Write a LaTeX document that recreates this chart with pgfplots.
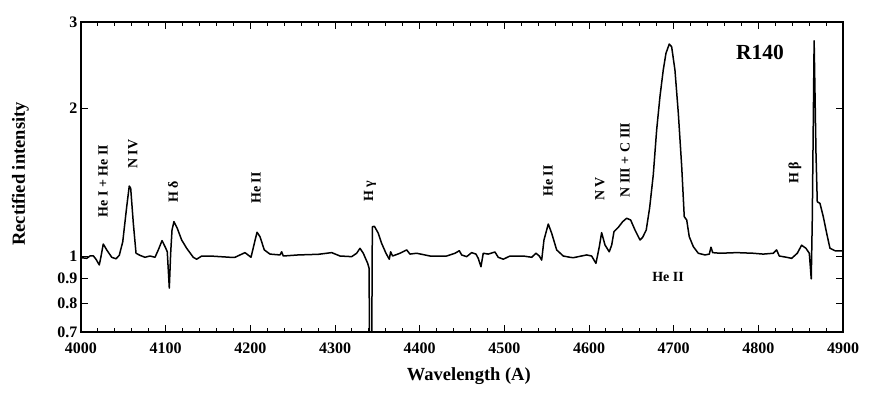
\documentclass[border=0pt]{standalone}
\usepackage{fontspec}
\setmainfont{Liberation Serif}
\usepackage{pgfplots}
\pgfplotsset{compat=1.18}
\usepackage{pgfplotstable}

% R140 spectrum (wavelength in A, rectified intensity)
\pgfplotstableread{
lam   flux
4000.8 0.992
4006.7 0.989
4010.6 1.000
4014.5 1.001
4017.7 0.985
4021.6 0.959
4023.6 0.997
4026.3 1.058
4030.4 1.029
4036.3 0.994
4041.3 0.987
4045.2 1.003
4049.3 1.069
4054.0 1.261
4057.0 1.389
4058.7 1.374
4061.8 1.166
4065.0 1.013
4069.7 1.003
4075.6 0.994
4081.5 1.000
4087.4 0.994
4091.3 1.029
4095.7 1.075
4099.6 1.042
4101.9 1.020
4104.3 0.860
4105.9 1.013
4107.5 1.130
4109.8 1.175
4113.7 1.139
4118.9 1.078
4124.8 1.037
4132.6 0.994
4136.6 0.985
4142.6 1.000
4152.4 1.000
4164.2 0.997
4176.0 0.994
4181.9 0.994
4193.7 1.016
4200.8 0.994
4204.7 1.061
4207.9 1.118
4211.4 1.095
4216.5 1.029
4223.2 1.009
4235.0 1.005
4237.0 1.020
4238.9 1.000
4256.6 1.005
4280.3 1.008
4296.1 1.016
4305.9 1.000
4319.7 0.997
4325.6 1.013
4329.5 1.037
4333.4 1.013
4338.6 0.966
4340.2 0.945
4341.0 0.600
4343.3 0.600
4344.1 1.147
4346.5 1.150
4351.1 1.113
4355.1 1.061
4360.2 1.013
4364.1 0.985
4365.7 1.020
4368.0 1.000
4376.8 1.013
4384.7 1.029
4388.5 1.009
4396.4 1.013
4412.2 1.000
4431.9 1.000
4441.7 1.013
4446.8 1.025
4449.6 1.005
4455.5 0.997
4461.4 1.016
4466.5 1.009
4469.2 0.989
4472.4 0.951
4475.1 1.013
4481.0 1.009
4488.9 1.019
4492.8 0.994
4498.8 0.985
4506.7 1.000
4522.4 1.000
4532.3 0.994
4537.4 1.013
4541.3 1.000
4544.1 0.981
4546.8 1.078
4551.9 1.162
4555.9 1.113
4561.8 1.029
4569.6 1.000
4577.5 0.994
4581.4 0.992
4597.2 1.005
4603.1 1.000
4608.2 0.966
4612.2 1.045
4614.9 1.116
4618.9 1.053
4623.9 1.020
4626.8 1.053
4629.5 1.121
4634.6 1.144
4639.8 1.175
4644.5 1.194
4649.2 1.184
4654.3 1.130
4660.2 1.078
4663.4 1.092
4667.6 1.130
4671.6 1.253
4675.9 1.463
4679.9 1.807
4683.8 2.113
4687.7 2.395
4690.9 2.590
4694.8 2.705
4697.6 2.671
4701.5 2.395
4705.5 1.954
4709.5 1.521
4712.5 1.203
4715.4 1.184
4718.4 1.095
4723.2 1.045
4729.1 1.013
4737.0 1.005
4742.1 1.009
4744.1 1.042
4746.1 1.016
4754.7 1.013
4774.4 1.016
4794.0 1.013
4805.8 1.009
4817.6 1.013
4821.6 1.029
4824.7 1.000
4833.4 0.994
4839.3 0.989
4846.0 1.013
4851.1 1.052
4856.2 1.037
4860.2 1.013
4862.5 0.898
4863.7 1.184
4865.9 2.747
4868.1 1.620
4869.6 1.290
4872.8 1.280
4876.7 1.203
4880.7 1.113
4884.6 1.037
4890.5 1.025
4896.4 1.024
4900.0 1.024
}\spectrum

\begin{document}
\begin{tikzpicture}
\begin{axis}[
  name=main,
  width=762pt, height=310pt, scale only axis,
  xmin=4000, xmax=4900,
  ymode=log, ymin=0.7, ymax=3,
  xtick={4000,4100,...,4900},
  minor x tick num=4,
  ytick={0.7,0.8,0.9,1,2,3},
  yticklabels={0.7,0.8,0.9,1,2,3},
  yticklabel pos=left,
  xticklabel pos=bottom,
  /pgf/number format/assume math mode=true,
  /pgf/number format/1000 sep={},
  tick label style={font=\fontsize{16}{19}\selectfont\bfseries},
  xticklabel style={yshift=-7pt},
  major tick length=7pt, minor tick length=4.5pt,
  tick style={black, line width=0.9pt},
  axis line style={line width=1.1pt},
  xlabel={Wavelength (A)},
  ylabel={Rectified intensity},
  label style={font=\fontsize{18.5}{22}\selectfont\bfseries},
  xlabel style={at={(axis description cs:0.509,-0.116)}, anchor=north, inner sep=0pt},
  ylabel style={at={(axis description cs:-0.068,0.51)}, anchor=south, inner sep=0pt},
]
\addplot[black, line width=1.5pt, line join=round] table[x=lam, y=flux] {\spectrum};

\begin{scope}[every node/.style={font=\fontsize{14}{16}\selectfont\bfseries, inner sep=0pt}]
\node[rotate=90] at (axis cs:4026,1.422) {He I + He II};
\node[rotate=90] at (axis cs:4061.4,1.614) {N IV};
\node[rotate=90] at (axis cs:4108.7,1.350) {H δ};
\node[rotate=90] at (axis cs:4206.7,1.376) {He II};
\node[rotate=90] at (axis cs:4341.3,1.357) {H γ};
\node[rotate=90] at (axis cs:4551.6,1.422) {He II};
\node[rotate=90] at (axis cs:4613,1.370) {N V};
\node[rotate=90] at (axis cs:4642.5,1.569) {N III + C III};
\node[rotate=90] at (axis cs:4843.3,1.476) {H β};
\node at (axis cs:4693.3,0.906) {He II};
\end{scope}
\node[font=\fontsize{21.5}{25}\selectfont\bfseries, inner sep=0pt] at (axis cs:4802,2.606) {R140};
\end{axis}
\path (main.south west) ++(-81pt,-63pt) rectangle ++(883pt,395pt);
\end{tikzpicture}
\end{document}
